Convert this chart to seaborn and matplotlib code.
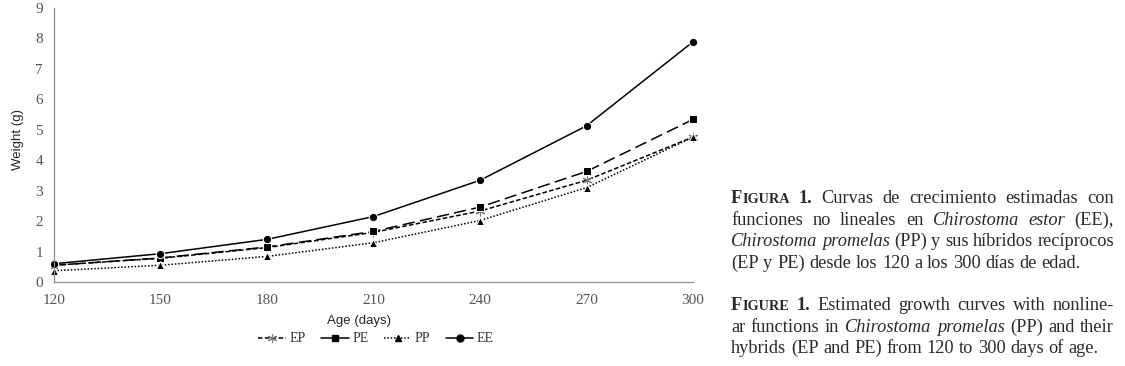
import numpy as np
import pandas as pd
import matplotlib
matplotlib.use("Agg")
import matplotlib.pyplot as plt
import seaborn as sns

# data
age_days = [120, 150, 180, 210, 240, 270, 300]
weight_ep = [0.55, 0.78, 1.13, 1.63, 2.33, 3.34, 4.76]
weight_pe = [0.55, 0.79, 1.15, 1.66, 2.46, 3.63, 5.34]
weight_pp = [0.37, 0.55, 0.84, 1.29, 2.02, 3.10, 4.76]
weight_ee = [0.60, 0.93, 1.40, 2.15, 3.34, 5.13, 7.89]
groups = ["EP", "PE", "PP", "EE"]

y_ticks = list(range(0, 10))

caption_es = [
    [[("F", "sc"), ("IGURA", "scs")], [("1.", "b")], [("Curvas", "n")], [("de", "n")],
     [("crecimiento", "n")], [("estimadas", "n")], [("con", "n")]],
    [[("funciones", "n")], [("no", "n")], [("lineales", "n")], [("en", "n")],
     [("Chirostoma", "i")], [("estor", "i")], [("(EE),", "n")]],
    [[("Chirostoma", "i")], [("promelas", "i")], [("(PP)", "n")], [("y", "n")], [("sus", "n")],
     [("híbridos", "n")], [("recíprocos", "n")]],
    [[("(EP", "n")], [("y", "n")], [("PE)", "n")], [("desde", "n")], [("los", "n")], [("120", "n")],
     [("a", "n")], [("los", "n")], [("300", "n")], [("días", "n")], [("de", "n")], [("edad.", "n")]],
]
caption_en = [
    [[("F", "sc"), ("IGURE", "scs")], [("1.", "b")], [("Estimated", "n")], [("growth", "n")],
     [("curves", "n")], [("with", "n")], [("nonline-", "n")]],
    [[("ar", "n")], [("functions", "n")], [("in", "n")], [("Chirostoma", "i")], [("promelas", "i")],
     [("(PP)", "n")], [("and", "n")], [("their", "n")]],
    [[("hybrids", "n")], [("(EP", "n")], [("and", "n")], [("PE)", "n")], [("from", "n")], [("120", "n")],
     [("to", "n")], [("300", "n")], [("days", "n")], [("of", "n")], [("age.", "n")]],
]

df = pd.DataFrame({
    "age": age_days * 4,
    "weight": weight_ep + weight_pe + weight_pp + weight_ee,
    "group": [g for g in groups for _ in age_days],
})

sns.set_style("white")
plt.rcParams["font.family"] = ["Liberation Serif", "DejaVu Serif"]

fig = plt.figure(figsize=(11.25, 3.66), dpi=100)
W, H = 1125, 366
ax = fig.add_axes([54 / W, 1 - 282 / H, (693 - 54) / W, (282 - 8) / H])

sns.lineplot(
    data=df, x="age", y="weight", hue="group", style="group", ax=ax,
    palette={g: "black" for g in groups},
    dashes={"EP": (3, 1.5), "PE": (8, 3.5), "PP": (1, 1.2), "EE": ""},
    markers={"EP": "X", "PE": "s", "PP": "^", "EE": "o"},
    markersize=6, linewidth=1.1, legend=False,
)
# seaborn won't mix line-art and filled markers, so swap in the asterisk afterwards
for line in ax.lines:
    if line.get_marker() == "X":
        line.set_marker((6, 2, 0))
        line.set_markeredgecolor("#777777")
        line.set_markersize(7)
        line.set_markeredgewidth(0.8)

ax.set_xlim(120, 300)
ax.set_ylim(0, 9)
ax.set_xticks(age_days)
ax.set_yticks(y_ticks)
for side in ["top", "right"]:
    ax.spines[side].set_visible(False)
for side in ["left", "bottom"]:
    ax.spines[side].set_color("#8a8a8a")
    ax.spines[side].set_linewidth(0.9)
ax.tick_params(axis="both", which="major", direction="out", length=4, width=0.8,
               color="#8a8a8a", labelsize=11, labelcolor="#555555", pad=5)
ax.tick_params(axis="y", pad=4)
ax.set_xlabel("Age (days)", fontfamily="Liberation Sans", fontsize=9.5)
ax.set_ylabel("Weight (g)", fontfamily="Liberation Sans", fontsize=9.5)
ax.xaxis.set_label_coords((359 - 54) / 639, (282 - 321) / 274)
ax.yaxis.set_label_coords((18 - 54) / 639, 0.52)
ax.xaxis.label.set_va("center")
ax.yaxis.label.set_va("center")
for line in ax.lines:
    line.set_clip_on(False)

handles = [
    plt.Line2D([], [], color="black", dashes=(3, 1.5), lw=1.1, marker=(6, 2, 0),
               markeredgecolor="#777777", markersize=6.5, markeredgewidth=0.8),
    plt.Line2D([], [], color="black", lw=1.1, marker="s", markersize=4.5),
    plt.Line2D([], [], color="black", dashes=(1, 1.2), lw=1.1, marker="^", markersize=4.5),
    plt.Line2D([], [], color="black", lw=1.1, marker="o", markersize=5),
]
fig.legend(handles, groups, loc="center", bbox_to_anchor=(376 / W, 1 - 339 / H), ncol=4,
           frameon=False, fontsize=10, handlelength=2.0, handletextpad=0.25,
           columnspacing=1.1, labelcolor="#333333")

# caption, drawn piece by piece so it can be justified
renderer = fig.canvas.get_renderer()
cap_left, cap_right = 731, 1114
cap_w = cap_right - cap_left
cap_color = "#2a2a2a"


def piece_kw(style, size):
    kw = {"fontsize": size, "color": cap_color}
    if style == "i":
        kw["fontstyle"] = "italic"
    if style in ("b", "sc"):
        kw["fontweight"] = "bold"
    if style == "scs":
        kw["fontweight"] = "bold"
        kw["fontsize"] = size * 0.78
    return kw


def measure(s, style, size):
    t = fig.text(0, 0, s, **piece_kw(style, size))
    w = t.get_window_extent(renderer).width
    t.remove()
    return w


def natural_width(words, size):
    sp = measure("a a", "n", size) - 2 * measure("a", "n", size)
    return sum(measure(s, st, size) for w in words for s, st in w) + sp * (len(words) - 1)


# pick the largest size at which every line still fits with normal spacing
cap_size = min(10 * cap_w / natural_width(words, 10) for words in caption_es + caption_en)
space_w = measure("a a", "n", cap_size) - 2 * measure("a", "n", cap_size)


def draw_line(words, baseline, justify):
    widths = [sum(measure(s, st, cap_size) for s, st in w) for w in words]
    if justify and len(words) > 1:
        gap = (cap_w - sum(widths)) / (len(words) - 1)
    else:
        gap = space_w
    x = cap_left
    for word, ww in zip(words, widths):
        xx = x
        for s, st in word:
            fig.text(xx / W, 1 - baseline / H, s, va="baseline", ha="left", **piece_kw(st, cap_size))
            xx += measure(s, st, cap_size)
        x += ww + gap


for i, words in enumerate(caption_es):
    draw_line(words, 203 + 21.7 * i, i < len(caption_es) - 1)
for i, words in enumerate(caption_en):
    draw_line(words, 310 + 21.7 * i, i < len(caption_en) - 1)

fig.savefig("out.png", dpi=100)
